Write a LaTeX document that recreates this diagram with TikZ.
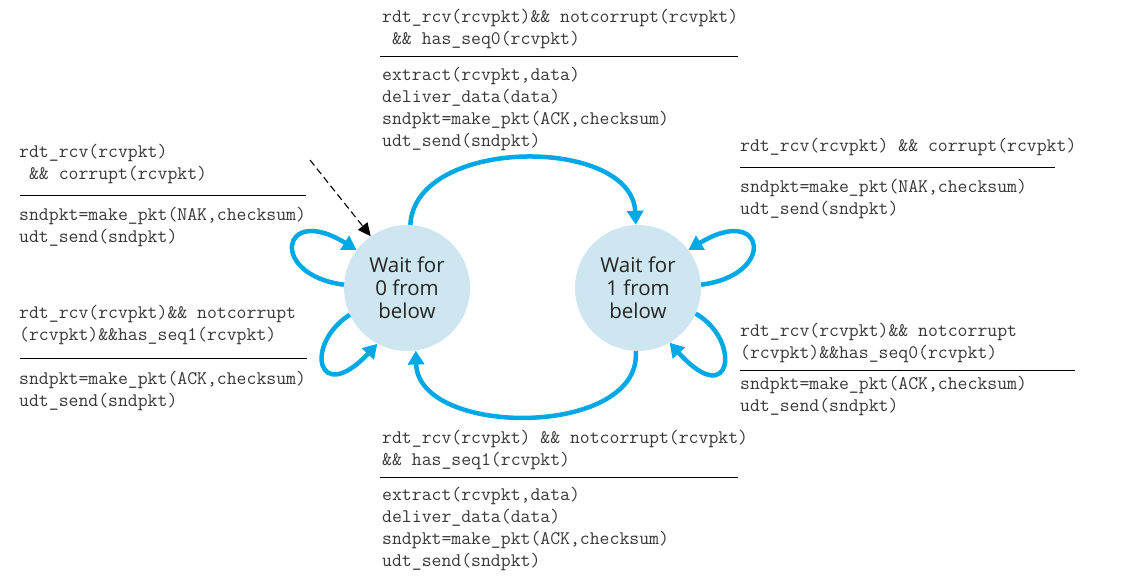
\documentclass[tikz,border=0pt]{standalone}
\usepackage{fontspec}
\newfontfamily\statefont{Open Sans}
\usetikzlibrary{arrows.meta}
\definecolor{fsmblue}{RGB}{0,168,230}
\definecolor{statefill}{RGB}{205,230,240}
\definecolor{codegray}{RGB}{55,55,55}
\tikzset{
  code/.style={anchor=base west,inner sep=0pt,text=codegray,font=\ttfamily\fontsize{19.2}{22}\selectfont},
  state/.style={circle,fill=statefill,minimum size=126pt,inner sep=0pt,align=center,text=black!85,font=\statefont\fontsize{20.5}{23}\selectfont},
  trans/.style={draw=fsmblue,line width=4.5pt,-{Triangle[length=14pt,width=16pt]}},
  rulebar/.style={draw=black,line width=1pt},
  init/.style={draw=black,line width=1.1pt,dash pattern=on 7pt off 4pt,-{Triangle[length=13pt,width=12pt]}}
}
\begin{document}
\begin{tikzpicture}[x=1pt,y=1pt]
\useasboundingbox (0,0) rectangle (1121,584);
% states
\node[state] (L) at (407,296) {Wait for\\0 from\\below};
\node[state] (R) at (638,296) {Wait for\\1 from\\below};
% transitions
\draw[trans] (L.87) .. controls (415,448) and (632,448) .. (R.92);
\draw[trans] (R.268) .. controls (642,146) and (418,146) .. (L.278);
\draw[trans] (L.177) .. controls (268,309) and (281,381) .. (L.143);
\draw[trans] (L.205) .. controls (303,239) and (318,177) .. (L.242);
\draw[trans] (R.3) .. controls (778,309) and (765,381) .. (R.37);
\draw[trans] (R.336) .. controls (742,244) and (732,172) .. (R.300);
% initial
\coordinate (init) at (310,424);
\draw[init] (init) -- (L.125);
% top block
\node[code] (t1) at (382,561) {rdt\_rcv(rcvpkt)\&\& notcorrupt(rcvpkt)};
\node[code] (t2) at (382,539) {\phantom{x}\&\& has\_seq0(rcvpkt)};
\draw[rulebar] (380,527) -- (738,527);
\node[code] (t3) at (382,503) {extract(rcvpkt,data)};
\node[code] (t4) at (382,481) {deliver\_data(data)};
\node[code] (t5) at (382,459) {sndpkt=make\_pkt(ACK,checksum)};
\node[code] (t6) at (382,437) {udt\_send(sndpkt)};
% left upper
\node[code] (a1) at (19,426) {rdt\_rcv(rcvpkt)};
\node[code] (a2) at (19,404) {\phantom{x}\&\& corrupt(rcvpkt)};
\draw[rulebar] (20,388) -- (306,388);
\node[code] (a3) at (19,363) {sndpkt=make\_pkt(NAK,checksum)};
\node[code] (a4) at (19,341) {udt\_send(sndpkt)};
% left lower
\node[code] (b1) at (19,265) {rdt\_rcv(rcvpkt)\&\& notcorrupt};
\node[code] (b2) at (19,243) {(rcvpkt)\&\&has\_seq1(rcvpkt)};
\draw[rulebar] (20,225) -- (307,225);
\node[code] (b3) at (19,200) {sndpkt=make\_pkt(ACK,checksum)};
\node[code] (b4) at (19,178) {udt\_send(sndpkt)};
% right upper
\node[code] (c1) at (740,432) {rdt\_rcv(rcvpkt) \&\& corrupt(rcvpkt)};
\draw[rulebar] (740,416) -- (1055,416);
\node[code] (c3) at (740,391) {sndpkt=make\_pkt(NAK,checksum)};
\node[code] (c4) at (740,369) {udt\_send(sndpkt)};
% right lower
\node[code] (d1) at (740,247) {rdt\_rcv(rcvpkt)\&\& notcorrupt};
\node[code] (d2) at (740,225) {(rcvpkt)\&\&has\_seq0(rcvpkt)};
\draw[rulebar] (740,213) -- (1075,213);
\node[code] (d3) at (740,194) {sndpkt=make\_pkt(ACK,checksum)};
\node[code] (d4) at (740,172) {udt\_send(sndpkt)};
% bottom block
\node[code] (e1) at (382,141) {rdt\_rcv(rcvpkt) \&\& notcorrupt(rcvpkt)};
\node[code] (e2) at (382,119) {\&\& has\_seq1(rcvpkt)};
\draw[rulebar] (380,107) -- (738,107);
\node[code] (e3) at (382,84) {extract(rcvpkt,data)};
\node[code] (e4) at (382,62) {deliver\_data(data)};
\node[code] (e5) at (382,40) {sndpkt=make\_pkt(ACK,checksum)};
\node[code] (e6) at (382,18) {udt\_send(sndpkt)};
\end{tikzpicture}
\end{document}
